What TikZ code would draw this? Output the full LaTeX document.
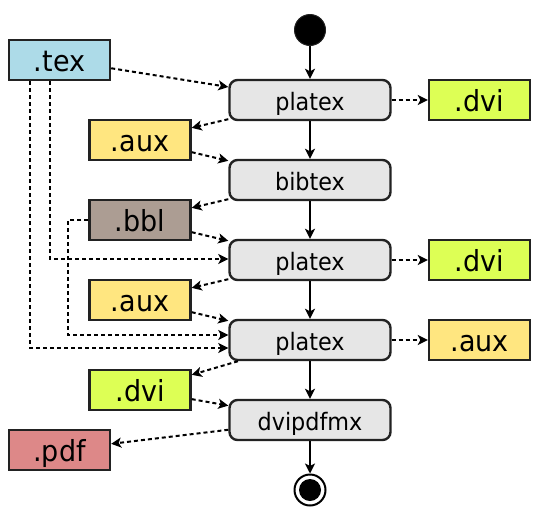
\documentclass[tikz,border=0pt]{standalone}
\usepackage{fontspec}
\setmainfont{DejaVu Sans}[FakeStretch=0.93]
\usetikzlibrary{arrows.meta,calc}
\definecolor{bordc}{HTML}{222222}
\definecolor{procfill}{HTML}{E6E6E6}
\definecolor{texc}{HTML}{ADDBE8}
\definecolor{auxc}{HTML}{FFE680}
\definecolor{bblc}{HTML}{AC9D93}
\definecolor{dvic}{HTML}{DDFF55}
\definecolor{pdfc}{HTML}{DD8888}
\begin{document}
\begin{tikzpicture}[x=1pt,y=-1pt,
  proc/.style={draw=bordc,line width=2.4pt,fill=procfill,rounded corners=8pt,
    minimum width=161pt,minimum height=40pt,inner sep=0pt,
    font=\fontsize{24}{28}\selectfont,text height=20pt,text depth=0pt},
  filebox/.style={draw=bordc,line width=2.4pt,fill=#1,
    minimum width=101pt,minimum height=40pt,inner sep=0pt,
    font=\fontsize{29}{33}\selectfont,text height=23pt,text depth=0pt},
  flow/.style={line width=2pt,-{Stealth[length=10pt,width=10pt,inset=2.5pt]}},
  data/.style={line width=2pt,dash pattern=on 4pt off 3pt,
    -{Stealth[length=10pt,width=10pt,inset=2.5pt]}},
]
\useasboundingbox (0,0) rectangle (540,520);
% control nodes
\node[circle,fill=black,draw=bordc,line width=1pt,minimum size=31pt,inner sep=0pt] (start) at (310,30) {};
\node[proc] (p1) at (310,100) {platex};
\node[proc] (bib) at (310,180) {bibtex};
\node[proc] (p2) at (310,260) {platex};
\node[proc] (p3) at (310,340) {platex};
\node[proc] (dvp) at (310,420) {dvipdfmx};
\node[circle,draw=black,line width=2pt,fill=white,minimum size=31pt,inner sep=0pt] (stop) at (310,490) {};
\node[circle,fill=black,minimum size=22pt,inner sep=0pt] (stopin) at (310,490) {};
% files right
\node[filebox=dvic] (dvi1) at (479.5,100) {.dvi};
\node[filebox=dvic] (dvi2) at (479.5,260) {.dvi};
\node[filebox=auxc] (aux3) at (479.5,340) {.aux};
% files left
\node[filebox=texc] (tex) at (59.5,60) {.tex};
\node[filebox=auxc] (aux1) at (140,140) {.aux};
\node[filebox=bblc] (bbl) at (140,220) {.bbl};
\node[filebox=auxc] (aux2) at (140,300) {.aux};
\node[filebox=dvic] (dvi3) at (140,390) {.dvi};
\node[filebox=pdfc] (pdf) at (59.5,450) {.pdf};
% control flow
\draw[flow] (start) -- (p1);
\draw[flow] (p1) -- (bib);
\draw[flow] (bib) -- (p2);
\draw[flow] (p2) -- (p3);
\draw[flow] (p3) -- (dvp);
\draw[flow] (dvp) -- (stop);
% data flow
\draw[data] (tex) -- (p1);
\draw[data] (p1) -- (dvi1);
\draw[data] (p1) -- (aux1);
\draw[data] (aux1) -- (bib);
\draw[data] (bib) -- (bbl);
\draw[data] (bbl) -- (p2);
\draw[data] (p2) -- (dvi2);
\draw[data] (p2) -- (aux2);
\draw[data] (aux2) -- (p3);
\draw[data] (p3) -- (aux3);
\draw[data] (p3) -- (dvi3);
\draw[data] (dvi3) -- (dvp);
\draw[data] (dvp) -- (pdf);
\draw[data] ([xshift=-9.5pt]tex.south) |- ([yshift=1pt]p2.west);
\draw[data] ([xshift=-29.5pt]tex.south) |- ([yshift=-8pt]p3.west);
\draw[data] (bbl.west) -- ++(-20,0) |- ([yshift=5pt]p3.west);
\end{tikzpicture}
\end{document}
